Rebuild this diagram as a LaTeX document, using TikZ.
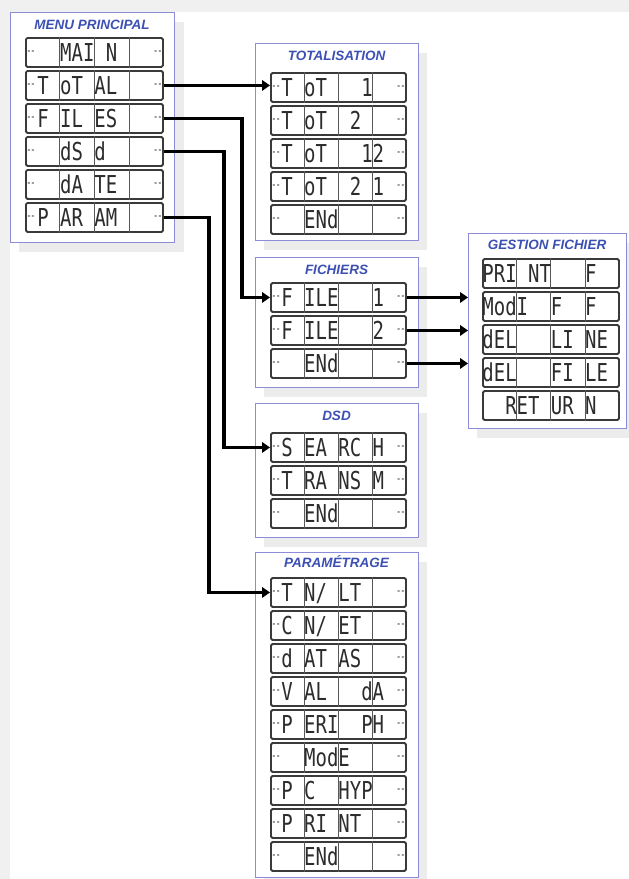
\documentclass[tikz,border=0pt]{standalone}
\usepackage{fontspec}
\setmainfont{Liberation Sans}
\newfontfamily\lcdfont{DejaVu Sans Mono}
\usetikzlibrary{arrows.meta,calc}

\definecolor{boxblue}{HTML}{8C8CD8}
\definecolor{titleblue}{HTML}{3C50B4}
\definecolor{lcdgray}{HTML}{3A3A3A}
\definecolor{lcdtextc}{HTML}{2C2C2C}
\definecolor{bggray}{HTML}{F0F0F0}
\definecolor{shadowgray}{HTML}{ECECEC}

\tikzset{
  panel/.style={draw=boxblue, line width=1.2pt, fill=white, inner sep=0pt, anchor=north west},
  panelshadow/.style={fill=shadowgray, draw=none},
  paneltitle/.style={font=\fontsize{13.5}{14}\selectfont\bfseries\itshape, text=titleblue, inner sep=0pt},
  lcdbox/.style={draw=lcdgray, line width=1.9pt, fill=white, rounded corners=1.5pt, minimum height=29pt, inner sep=0pt, anchor=north west},
  lcddiv/.style={draw=lcdgray!85, line width=1pt},
  lcdtext/.style={font=\lcdfont\fontsize{18.97}{19}\selectfont, text=lcdtextc, inner sep=0pt, anchor=base},
  lcddash/.style={font=\lcdfont\bfseries\fontsize{7}{7}\selectfont, text=lcdgray, inner sep=0pt},
  link/.style={line width=3.2pt, black, -{Triangle[length=8pt,width=10.5pt]}},
}

% #1 name, #2 x, #3 y top, #4 width, #5 12-slot string, #6 dashes (1/0)
\newcommand\lcdrow[6]{%
  \node[lcdbox, minimum width=#4pt] (#1) at (#2,#3) {};
  \foreach \k in {1,2,3}{\draw[lcddiv] ($(#1.north west)!\k/4!(#1.north east)$) -- ($(#1.south west)!\k/4!(#1.south east)$);}
  \node[lcdtext] (#1txt) at ($(#1.center)+(0,-8.9pt)$) {\scalebox{1}[1.3]{#5}};
  \ifnum#6=1\relax
    \node[lcddash] (#1dl) at ($(#1.west)+(6pt,0)$) {--};
    \node[lcddash] (#1dr) at ($(#1.east)+(-6pt,0)$) {--};
  \fi
}

\begin{document}
\begin{tikzpicture}[x=1pt,y=-1pt]
\useasboundingbox (0,0) rectangle (629,879);
\fill[bggray] (0,0) rectangle (629,879);
\fill[white] (10,12) rectangle (629,879);

% shadows
\fill[panelshadow] (19,22) rectangle (184,252);
\fill[panelshadow] (264,53) rectangle (427,250);
\fill[panelshadow] (264,267) rectangle (427,397);
\fill[panelshadow] (477,243) rectangle (629,438);
\fill[panelshadow] (264,413) rectangle (427,547);
\fill[panelshadow] (264,562) rectangle (427,879);

% panels
\node[panel, minimum width=164pt, minimum height=230pt] (pmenu) at (10,12) {};
\node[panel, minimum width=163pt, minimum height=197pt] (ptot) at (255,43) {};
\node[panel, minimum width=163pt, minimum height=130pt] (pfich) at (255,257) {};
\node[panel, minimum width=158pt, minimum height=195pt] (pgest) at (468,233) {};
\node[panel, minimum width=163pt, minimum height=134pt] (pdsd) at (255,403) {};
\node[panel, minimum width=163pt, minimum height=325pt] (ppar) at (255,552) {};

% titles
\node[paneltitle] (tmenu) at (92,25) {MENU PRINCIPAL};
\node[paneltitle] (ttot) at (336.5,56) {TOTALISATION};
\node[paneltitle] (tfich) at (336.5,270) {FICHIERS};
\node[paneltitle] (tgest) at (547,245) {GESTION FICHIER};
\node[paneltitle] (tdsd) at (336.5,416) {DSD};
\node[paneltitle] (tpar) at (336.5,562) {PARAMÉTRAGE};

% MENU PRINCIPAL
\lcdrow{m1}{25}{37}{137}{~~~MAI~N~~~~}{1}
\lcdrow{m2}{25}{70}{137}{~T~oT~AL~~~~}{1}
\lcdrow{m3}{25}{103}{137}{~F~IL~ES~~~~}{1}
\lcdrow{m4}{25}{136}{137}{~~~dS~d~~~~~}{1}
\lcdrow{m5}{25}{169}{137}{~~~dA~TE~~~~}{1}
\lcdrow{m6}{25}{202}{137}{~P~AR~AM~~~~}{1}

% TOTALISATION
\lcdrow{t1}{270}{72}{135}{~T~oT~~~1~~~}{1}
\lcdrow{t2}{270}{105}{135}{~T~oT~~2~~~~}{1}
\lcdrow{t3}{270}{138}{135}{~T~oT~~~12~~}{1}
\lcdrow{t4}{270}{171}{135}{~T~oT~~2~1~~}{1}
\lcdrow{t5}{270}{204}{135}{~~~ENd~~~~~~}{1}

% FICHIERS
\lcdrow{f1}{270}{282}{135}{~F~ILE~~~1~~}{1}
\lcdrow{f2}{270}{315}{135}{~F~ILE~~~2~~}{1}
\lcdrow{f3}{270}{348}{135}{~~~ENd~~~~~~}{1}

% GESTION FICHIER
\lcdrow{g1}{482}{258}{136}{PRI~NT~~~F~~}{0}
\lcdrow{g2}{482}{291}{136}{ModI~~F~~F~~}{0}
\lcdrow{g3}{482}{324}{136}{dEL~~~LI~NE~}{0}
\lcdrow{g4}{482}{357}{136}{dEL~~~FI~LE~}{0}
\lcdrow{g5}{482}{390}{136}{~~RET~UR~N~~}{0}

% DSD
\lcdrow{d1}{270}{432}{135}{~S~EA~RC~H~~}{1}
\lcdrow{d2}{270}{465}{135}{~T~RA~NS~M~~}{1}
\lcdrow{d3}{270}{498}{135}{~~~ENd~~~~~~}{1}

% PARAMETRAGE
\lcdrow{p1}{270}{577}{135}{~T~N/~LT~~~~}{1}
\lcdrow{p2}{270}{610}{135}{~C~N/~ET~~~~}{1}
\lcdrow{p3}{270}{643}{135}{~d~AT~AS~~~~}{1}
\lcdrow{p4}{270}{676}{135}{~V~AL~~~dA~~}{1}
\lcdrow{p5}{270}{709}{135}{~P~ERI~~PH~~}{1}
\lcdrow{p6}{270}{742}{135}{~~~ModE~~~~~}{1}
\lcdrow{p7}{270}{775}{135}{~P~C~~HYP~~~}{1}
\lcdrow{p8}{270}{808}{135}{~P~RI~NT~~~~}{1}
\lcdrow{p9}{270}{841}{135}{~~~ENd~~~~~~}{1}

% connectors
\draw[link] (m2.east) -- (m2.east -| t1.west);
\draw[link] (m3.east) -- ++(78,0) |- (f1.west);
\draw[link] (m4.east) -- ++(60,0) |- (d1.west);
\draw[link] (m6.east) -- ++(45,0) |- (p1.west);
\draw[link] (f1.east) -- (f1.east -| pgest.west);
\draw[link] (f2.east) -- (f2.east -| pgest.west);
\draw[link] (f3.east) -- (f3.east -| pgest.west);
\end{tikzpicture}
\end{document}
